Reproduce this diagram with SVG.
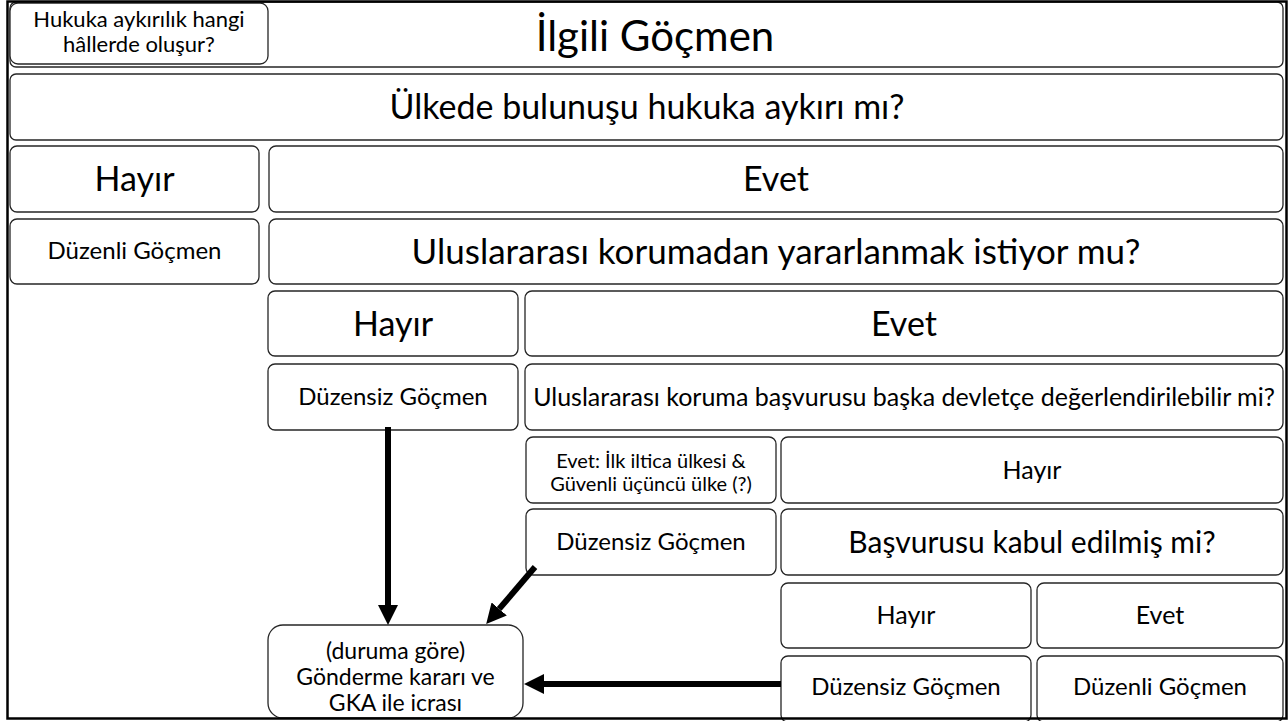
<svg xmlns="http://www.w3.org/2000/svg" width="1288" height="721" viewBox="0 0 1288 721">
<style>
.box{fill:#fff;stroke:#262626;stroke-width:1.3}
.t{font-family:Lato,"Open Sans","Liberation Sans",sans-serif;fill:#000;text-anchor:middle}
.xxl{font-size:42px}
.xl{font-size:34px}
.xl2{font-size:35px}
.l{font-size:30px}
.m{font-size:25px}
.m2{font-size:24px}
.s{font-size:20px}
.s2{font-size:22px}
.d{font-size:23px}
.arr{stroke:#000;stroke-width:6;fill:none;marker-end:url(#ah)}
</style>
<defs>
<marker id="ah" markerUnits="userSpaceOnUse" markerWidth="20" markerHeight="20" viewBox="0 0 20 20" refX="0" refY="10" orient="auto">
<path d="M0,0 L20,10 L0,20 z" fill="#000"/>
</marker>
</defs>
<rect width="1288" height="721" fill="#fff"/>
<g id="n-ilgili"><rect class="box" x="10" y="2" width="1273" height="65" rx="6"/><text class="t xxl" x="655" y="51">İlgili Göçmen</text></g>
<g id="n-hukuka"><rect class="box" x="10" y="3" width="258" height="61" rx="8"/><text class="t s2" x="139" y="27">Hukuka aykırılık hangi</text><text class="t s2" x="139" y="52">hâllerde oluşur?</text></g>
<g id="n-ulkede"><rect class="box" x="10" y="74" width="1273" height="66" rx="6"/><text class="t xl" x="647" y="119">Ülkede bulunuşu hukuka aykırı mı?</text></g>
<g id="n-hayir1"><rect class="box" x="10" y="146" width="249" height="66" rx="7"/><text class="t xl" x="134.5" y="191">Hayır</text></g>
<g id="n-evet1"><rect class="box" x="269" y="146" width="1014" height="66" rx="7"/><text class="t xl" x="776" y="191">Evet</text></g>
<g id="n-duzenli1"><rect class="box" x="10" y="219" width="249" height="65" rx="7"/><text class="t m2" x="134.5" y="259">Düzenli Göçmen</text></g>
<g id="n-uluslararasi1"><rect class="box" x="269" y="219" width="1014" height="65" rx="7"/><text class="t xl2" x="776" y="264">Uluslararası korumadan yararlanmak istiyor mu?</text></g>
<g id="n-hayir2"><rect class="box" x="268" y="291" width="250" height="65" rx="7"/><text class="t xl" x="393" y="336">Hayır</text></g>
<g id="n-evet2"><rect class="box" x="525" y="291" width="758" height="65" rx="7"/><text class="t xl" x="904" y="336">Evet</text></g>
<g id="n-duzensiz1"><rect class="box" x="268" y="364" width="250" height="66" rx="7"/><text class="t m2" x="393" y="405">Düzensiz Göçmen</text></g>
<g id="n-basvuru"><rect class="box" x="525" y="364" width="758" height="66" rx="7"/><text class="t m" x="904" y="406">Uluslararası koruma başvurusu başka devletçe değerlendirilebilir mi?</text></g>
<g id="n-evet3"><rect class="box" x="526" y="437" width="250" height="66" rx="7"/><text class="t s" x="651" y="468">Evet: İlk iltica ülkesi &amp;</text><text class="t s" x="651" y="491">Güvenli üçüncü ülke (?)</text></g>
<g id="n-hayir3"><rect class="box" x="781" y="437" width="502" height="66" rx="7"/><text class="t m" x="1032" y="479">Hayır</text></g>
<g id="n-duzensiz2"><rect class="box" x="526" y="509" width="250" height="66" rx="7"/><text class="t m2" x="651" y="550">Düzensiz Göçmen</text></g>
<g id="n-kabul"><rect class="box" x="781" y="509" width="502" height="66" rx="7"/><text class="t l" x="1032" y="553">Başvurusu kabul edilmiş mi?</text></g>
<g id="n-hayir4"><rect class="box" x="781" y="583" width="250" height="65" rx="7"/><text class="t m" x="906" y="624">Hayır</text></g>
<g id="n-evet4"><rect class="box" x="1037" y="583" width="246" height="65" rx="7"/><text class="t m" x="1160" y="624">Evet</text></g>
<g id="n-duzensiz3"><rect class="box" x="781" y="656" width="250" height="66" rx="7"/><text class="t m2" x="906" y="695">Düzensiz Göçmen</text></g>
<g id="n-duzenli2"><rect class="box" x="1037" y="656" width="246" height="66" rx="7"/><text class="t m2" x="1160" y="695">Düzenli Göçmen</text></g>
<g id="n-gonderme"><rect class="box" x="268" y="625" width="255" height="93" rx="15"/><text class="t d" x="395.5" y="659">(duruma göre)</text><text class="t d" x="395.5" y="685">Gönderme kararı ve</text><text class="t d" x="395.5" y="711">GKA ile icrası</text></g>
<g id="connectors">
<path class="arr" d="M388,427 L388,605"/>
<path class="arr" d="M535,567 L499.2,608.9"/>
<path class="arr" d="M781,684 L544,684"/>
</g>
<rect x="7.5" y="1.5" width="1279" height="717" fill="none" stroke="#000" stroke-width="2.5"/>
</svg>
